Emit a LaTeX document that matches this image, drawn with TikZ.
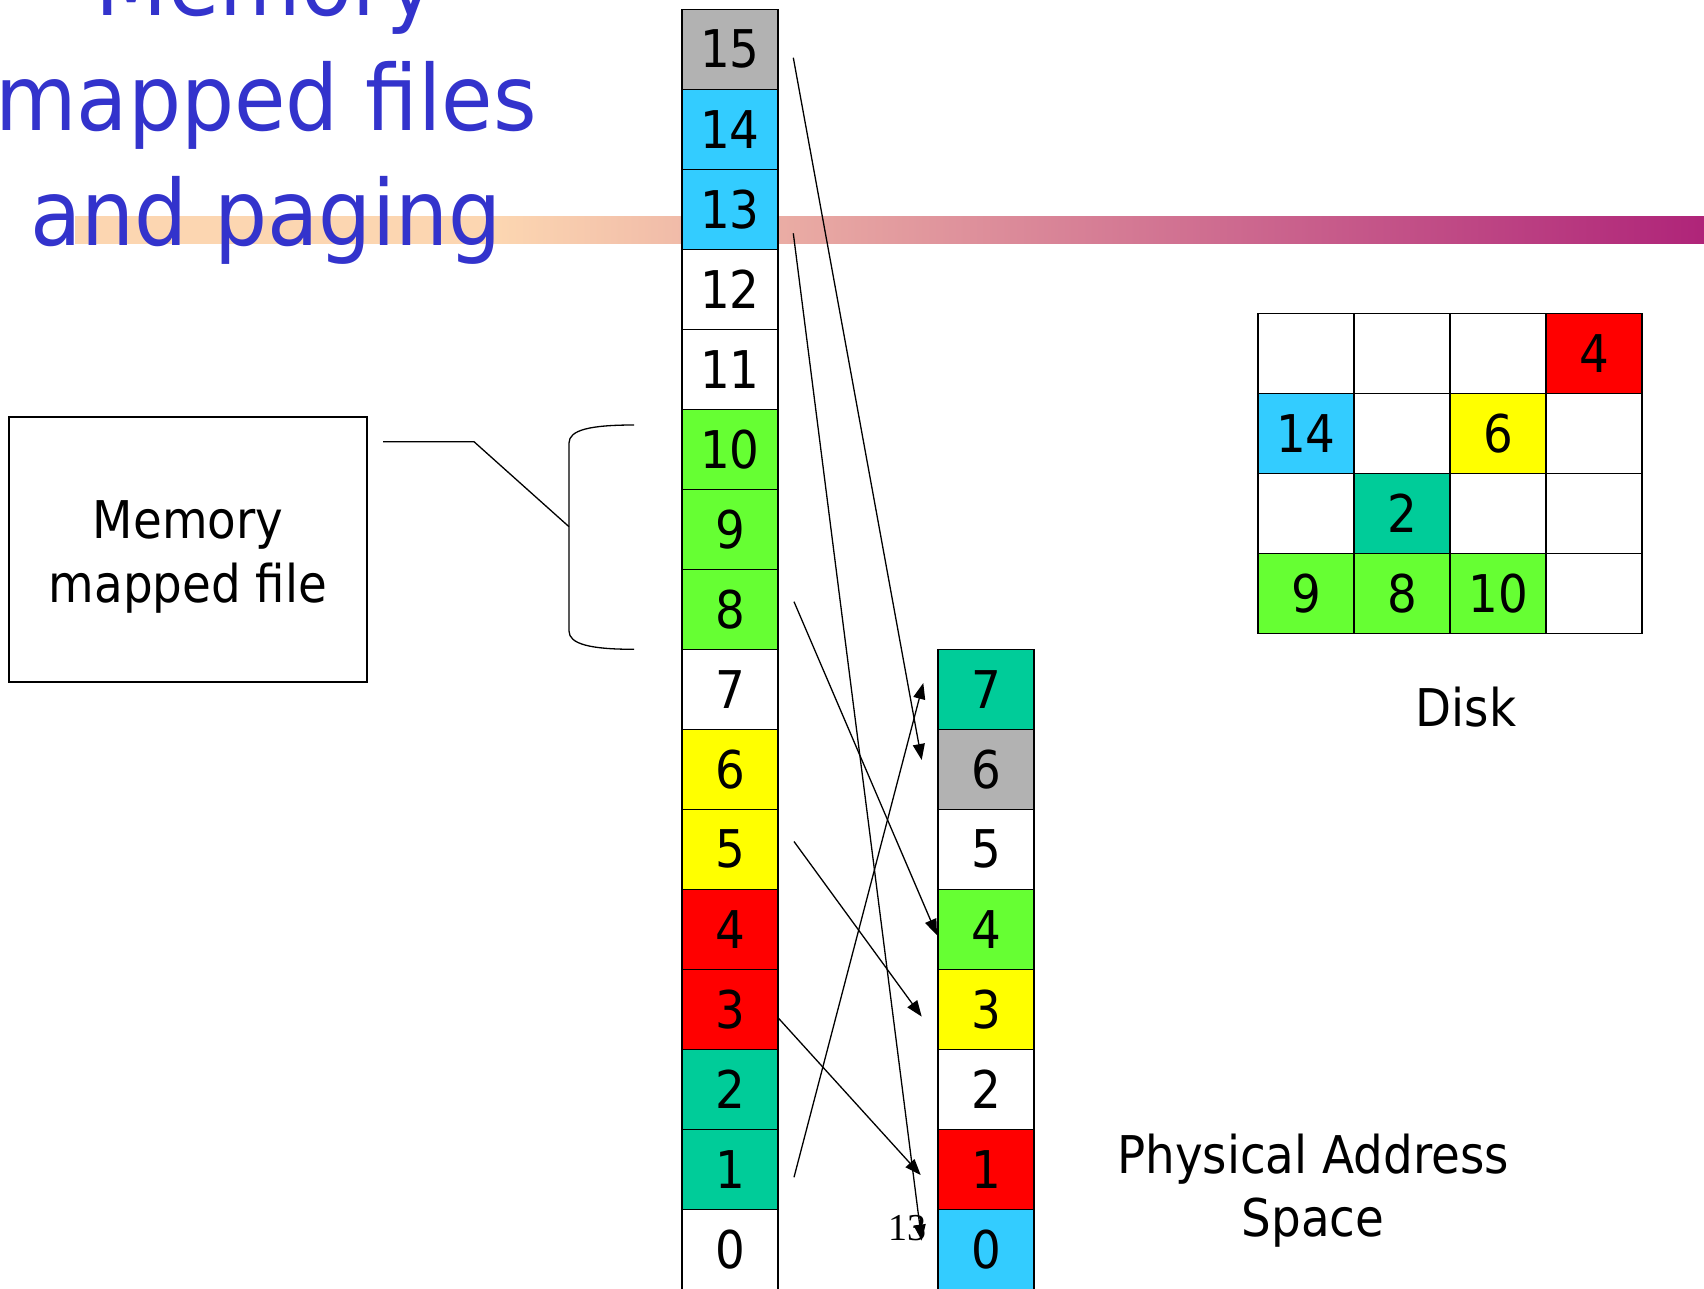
\documentclass[tikz,border=0pt]{standalone}
\usepackage{fontspec}
\setmainfont{DejaVu Sans}[FakeStretch=0.9]
\newfontfamily\titlefont{DejaVu Sans}[FakeStretch=0.92]
\newfontfamily\serifnum{Liberation Serif}
\usetikzlibrary{arrows.meta}
\definecolor{cgray}{HTML}{B2B2B2}
\definecolor{ccyan}{HTML}{33CCFF}
\definecolor{cgreen}{HTML}{66FF33}
\definecolor{cyellow}{HTML}{FFFF00}
\definecolor{cred}{HTML}{FF0000}
\definecolor{cteal}{HTML}{00CC99}
\definecolor{ctitle}{HTML}{3333CC}
\definecolor{cpeach}{HTML}{FCD6B1}
\definecolor{cmagenta}{HTML}{AF2479}
\pgfdeclarehorizontalshading{barshading}{100bp}{color(0bp)=(cpeach); color(38bp)=(cpeach); color(75bp)=(cmagenta); color(100bp)=(cmagenta)}
\begin{document}
\begin{tikzpicture}[x=0.5pt,y=-0.5pt,
  cellbox/.style={draw=black, line width=0.75pt, minimum width=48pt, minimum height=40pt,
    inner sep=0pt, font=\fontsize{26}{30}\selectfont},
  titletext/.style={anchor=base, inner sep=0pt, text=ctitle, font=\titlefont\fontsize{45.5}{50}\selectfont},
  plaintext/.style={inner sep=0pt, font=\fontsize{26}{32}\selectfont},
  arr/.style={-{Triangle[length=8pt,width=6pt]}, line width=0.65pt},
  thinline/.style={line width=0.65pt}]
\useasboundingbox (0,0) rectangle (1704,1289);

% decorative bar
\shade[shading=barshading] (75,217) rectangle (1704,244);

% title
\node[titletext] (title1) at (266,16) {Memory};
\node[titletext] (title2) at (266,131) {mapped files};
\node[titletext] (title3) at (266,246) {and paging};

% virtual address space
\foreach \v/\c in {15/cgray,14/ccyan,13/ccyan,12/white,11/white,10/cgreen,9/cgreen,8/cgreen,
                   7/white,6/cyellow,5/cyellow,4/cred,3/cred,2/cteal,1/cteal,0/white}{
  \node[cellbox, fill=\c] (v\v) at (730,{49.3+(15-\v)*80}) {\v};
}

% physical address space
\foreach \p/\c in {7/cteal,6/cgray,5/white,4/cgreen,3/cyellow,2/white,1/cred,0/ccyan}{
  \node[cellbox, fill=\c] (p\p) at (986,{689.3+(7-\p)*80}) {\p};
}

% disk
\foreach \r/\cc/\c/\t/\n in {0/0/white//d00,0/1/white//d01,0/2/white//d02,0/3/cred/4/d03,
                     1/0/ccyan/14/d10,1/1/white//d11,1/2/cyellow/6/d12,1/3/white//d13,
                     2/0/white//d20,2/1/cteal/2/d21,2/2/white//d22,2/3/white//d23,
                     3/0/cgreen/9/d30,3/1/cgreen/8/d31,3/2/cgreen/10/d32,3/3/white//d33}{
  \node[cellbox, fill=\c] (\n) at ({1306+96*\cc},{353.3+80*\r}) {\t};
}
\node[plaintext, anchor=base] (disklbl) at (1466,726) {Disk};

% physical address space label
\node[plaintext, anchor=base] (physlbl1) at (1313,1173) {Physical Address};
\node[plaintext, anchor=base] (physlbl2) at (1313,1236) {Space};

% memory mapped file box
\node[draw=black, line width=0.75pt, minimum width=179pt, minimum height=132.5pt, inner sep=0pt]
  (mmbox) at (188,549.5) {};
\node[plaintext, anchor=base] (mmtext1) at (188,538) {Memory};
\node[plaintext, anchor=base] (mmtext2) at (188,602) {mapped file};

% brace and leader line
\coordinate (bracetop) at (634,425);
\coordinate (bracebot) at (634,649.3);
\coordinate (bracemid) at (569,526.7);
\coordinate (leadstart) at (383,441.7);
\coordinate (leadbend) at (474,441.7);
\draw[thinline] (bracetop) .. controls (590,425) and (569,430) .. (569,443)
   -- (569,631) .. controls (569,644) and (590,649.3) .. (bracebot);
\draw[thinline] (leadstart) -- (leadbend) -- (bracemid);

% mapping arrows
\coordinate (s15) at (793.3,57.7);
\coordinate (e15) at (921.7,760);
\coordinate (s13) at (793.3,233.3);
\coordinate (e13) at (921.7,1240.6);
\coordinate (s8) at (794,601.7);
\coordinate (e8) at (937,935.2);
\coordinate (s5) at (794,841.5);
\coordinate (e5) at (921.7,1016.6);
\coordinate (s3) at (778.3,1018);
\coordinate (e3) at (920.7,1175);
\coordinate (s1) at (794,1177.3);
\coordinate (e1) at (923.3,683);
\draw[arr] (s15) -- (e15);
\draw[arr] (s13) -- (e13);
\draw[arr] (s8) -- (e8);
\draw[arr] (s5) -- (e5);
\draw[arr] (s3) -- (e3);
\draw[arr] (s1) -- (e1);

\node[anchor=base west, inner sep=0pt, font=\serifnum\fontsize{19}{20}\selectfont] (lbl13) at (888,1240) {13};
\end{tikzpicture}
\end{document}
